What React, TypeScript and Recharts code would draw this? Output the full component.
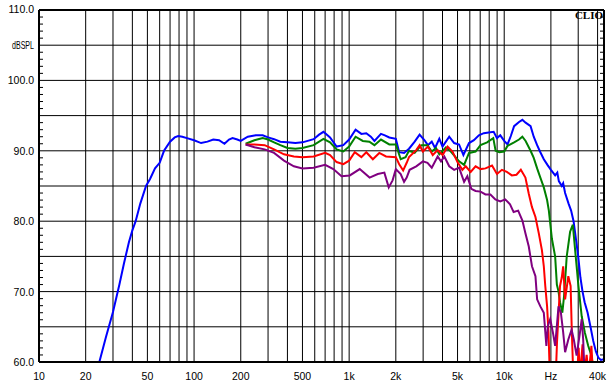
import React from "react";
import { LineChart, Line, XAxis, YAxis, ReferenceLine } from "recharts";

// frequency (Hz), level (dBSPL)
const BLUE: [number, number][] = [
  [24.5, 60], [27, 63.5], [30, 67.1], [33, 71], [35.3, 74], [38, 77], [40, 78.7],
  [42, 80], [45, 82.5], [49, 85], [52, 86], [56, 87.5], [60, 88.3], [64, 90],
  [70, 91.3], [75, 91.9], [79, 92.1], [84, 92.0], [90, 91.8], [100, 91.5],
  [111, 91.1], [122, 91.3], [133, 91.6], [145, 91.5], [157, 91.0], [168, 91.6],
  [177, 91.8], [190, 91.6], [200, 91.4], [222, 92.0], [250, 92.2], [277, 92.2],
  [300, 91.9], [328, 91.65], [360, 91.3], [400, 91.2], [450, 91.1], [500, 91.2],
  [590, 91.65], [640, 92.3], [683, 92.7], [753, 91.9], [830, 90.6], [917, 90.8],
  [1000, 91.6], [1100, 93.0], [1199, 92.4], [1290, 92.5], [1380, 92.0], [1456, 91.4],
  [1604, 92.4], [1700, 92.2], [1815, 91.9], [2000, 91.7], [2102, 89.8], [2260, 89.7],
  [2433, 90.3], [2646, 91.3], [2847, 92.3], [3064, 91.5], [3218, 90.8], [3410, 91.3],
  [3580, 90.4], [3815, 91.7], [4000, 90.6], [4419, 92.0], [4755, 91.1], [5116, 90.9],
  [5454, 89.4], [5930, 91.1], [6375, 91.5], [6862, 92.2], [7385, 92.5], [7946, 92.6],
  [8551, 92.7], [8980, 91.8], [9430, 92.2], [10000, 91.4], [10500, 90.9], [11030, 92.1],
  [11580, 93.5], [12460, 94.1], [13090, 94.4], [13740, 94.0], [14790, 93.5], [15500, 92.0],
  [16300, 90.8], [17100, 89.8], [18000, 88.8], [19000, 88.0], [20000, 87.3], [21300, 86.5],
  [22000, 86.9], [22500, 85.7], [23500, 85.0], [24000, 85.4], [24700, 84.0], [26000, 82.5],
  [27000, 81.5], [28000, 80.0], [29000, 77.5], [30000, 75.0], [31000, 72], [32000, 70],
  [33000, 68.5], [34500, 67], [36000, 65], [37500, 63], [39000, 61.5], [40500, 60.6],
  [42000, 60.3], [44000, 60.4],
];

const GREEN: [number, number][] = [
  [215, 91.0], [245, 91.5], [277, 91.8], [300, 91.6], [328, 91.2], [360, 90.8],
  [400, 90.4], [450, 90.3], [500, 90.4], [590, 90.8], [683, 91.7], [753, 91.2],
  [830, 90.2], [917, 89.9], [1000, 90.6], [1100, 92.0], [1225, 91.4], [1350, 91.3],
  [1456, 90.8], [1604, 91.6], [1815, 90.9], [2000, 90.9], [2150, 88.8], [2310, 89.1],
  [2433, 90.0], [2646, 89.7], [2920, 90.8], [3200, 90.8], [3410, 89.9], [3630, 90.4],
  [3815, 89.5], [4208, 90.5], [4527, 89.9], [5116, 88.5], [5510, 88.0], [5930, 89.7],
  [6536, 89.9], [7035, 90.8], [7757, 91.2], [8000, 91.4], [8500, 91.8], [8800, 90.0],
  [9300, 89.8], [10000, 89.9], [10500, 90.7], [11580, 91.2], [12460, 91.6], [13090, 92.0],
  [13740, 91.4], [14790, 90.0], [15500, 89.0], [16300, 87.5], [17100, 86.2], [18000, 84.8],
  [18900, 83.0], [19400, 81.5], [19800, 79.7], [20300, 77.5], [21300, 75.0], [21850, 71],
  [22400, 70], [22900, 68.5], [23700, 67.0], [24300, 69.3], [25300, 75], [26600, 78.5],
  [27700, 79.5], [28800, 75.4], [30100, 70.8], [31600, 66.5], [33100, 64.2], [34800, 62.3],
  [36500, 60.9], [37400, 59.5], [38500, 58],
];

const RED: [number, number][] = [
  [215, 90.9], [245, 90.9], [285, 90.8], [328, 90.2], [380, 89.5], [440, 89.2],
  [500, 89.1], [590, 89.2], [700, 89.7], [753, 89.4], [830, 88.4], [917, 88.1],
  [1000, 88.6], [1087, 89.8], [1199, 89.1], [1290, 89.8], [1422, 88.8], [1565, 89.7],
  [1729, 89.2], [2000, 89.1], [2102, 88.1], [2230, 87.2], [2350, 88.3], [2433, 89.1],
  [2708, 90.1], [2847, 90.8], [2990, 89.9], [3218, 90.6], [3460, 89.4], [3723, 90.1],
  [4007, 89.4], [4314, 90.6], [4642, 89.9], [4995, 88.4], [5375, 87.3], [5646, 87.8],
  [6075, 87.0], [6536, 87.8], [7035, 87.4], [7570, 87.5], [8345, 87.9], [8980, 86.7],
  [9663, 87.3], [10400, 87.0], [11200, 86.5], [12000, 86.6], [12800, 87.3], [13700, 86.2],
  [14400, 83.9], [15100, 82.0], [15900, 80.6], [16700, 78.3], [17500, 75.9], [18000, 73.6],
  [18400, 70.8], [18900, 67.9], [19300, 64.2], [19700, 58], [21500, 58], [21900, 62.8],
  [22900, 70.8], [23500, 72], [24000, 73.6], [24700, 68.9], [25900, 72.2], [26800, 70.8],
  [27300, 64.2], [27900, 58], [29500, 58], [30200, 62], [30800, 58], [32000, 62.5],
  [32700, 58], [34000, 61], [35000, 58], [36500, 62.3], [37400, 58],
];

const PURPLE: [number, number][] = [
  [215, 90.9], [245, 90.5], [285, 90.2], [328, 89.7], [380, 88.6], [440, 87.8],
  [500, 87.5], [590, 87.6], [700, 88.0], [791, 87.4], [893, 86.4], [1010, 86.5],
  [1170, 87.4], [1355, 86.2], [1530, 86.7], [1687, 86.9], [1800, 84.8], [1906, 85.8],
  [2000, 87.4], [2150, 86.7], [2260, 85.6], [2350, 86.2], [2454, 87.3], [2708, 87.8],
  [2990, 88.5], [3200, 88.3], [3410, 87.6], [3723, 89.2], [3913, 88.5], [4110, 89.2],
  [4419, 87.8], [4755, 87.3], [5116, 87.6], [5510, 85.6], [5785, 86.4], [6135, 84.6],
  [6536, 84.3], [7035, 84.2], [7570, 83.8], [8145, 83.8], [8763, 83.1], [9430, 82.8],
  [10150, 83.1], [10900, 82.4], [11500, 81.3], [12300, 81.5], [13100, 80.1], [13700, 78.3],
  [14400, 76.4], [15100, 73.6], [15900, 72.2], [16300, 68.9], [17100, 67.9], [18000, 67],
  [18700, 62.3], [19100, 65.1], [19800, 66.1], [20600, 64.2], [21300, 62.3], [22400, 67.9],
  [23200, 67], [24000, 64.2], [24700, 61.4], [25900, 63.2], [27200, 64.6], [28100, 63.2],
  [29300, 60.9], [30800, 64.2], [31600, 66.1], [32300, 63.2], [33000, 58],
];

const X_TICKS = [10, 20, 50, 100, 200, 500, 1000, 2000, 5000, 10000, 20000, 40000];
const X_LABELS = ["10", "20", "50", "100", "200", "500", "1k", "2k", "5k", "10k", "Hz", "40k"];
const X_GRID = [
  20, 30, 40, 50, 60, 70, 80, 90, 100, 200, 300, 400, 500, 600, 700, 800, 900,
  1000, 2000, 3000, 4000, 5000, 6000, 7000, 8000, 9000, 10000, 20000, 30000, 40000,
];
const Y_TICKS = [
  60, 61, 62, 63, 64, 65, 66, 67, 68, 69, 70, 71, 72, 73, 74, 75, 76, 77, 78, 79, 80,
  81, 82, 83, 84, 85, 86, 87, 88, 89, 90, 91, 92, 93, 94, 95, 96, 97, 98, 99, 100,
  101, 102, 103, 104, 105, 106, 107, 108, 109, 110,
];
const Y_GRID = [65, 70, 75, 80, 85, 90, 95, 100, 105];
const Y_LABEL_VALUES = [110, 105, 100, 90, 80, 70, 60];
const Y_LABELS = ["110.0", "dBSPL", "100.0", "90.0", "80.0", "70.0", "60.0"];

const FONT = "'Liberation Sans', Arial, sans-serif";
const toPoints = (rows: [number, number][]) => rows.map(([f, db]) => ({ f, db }));

const LeftTick = (props: any) => {
  const { x, y, payload } = props;
  const v = payload.value;
  const axisX = x + 4;
  const idx = Y_LABEL_VALUES.indexOf(v);
  return (
    <g>
      {v % 5 !== 0 && (
        <line x1={axisX} x2={axisX + 4} y1={y} y2={y} stroke="#000" strokeWidth={1} />
      )}
      {idx >= 0 && (
        <text
          x={x - 1}
          y={v === 110 ? y - 1 : y}
          dy={4}
          textAnchor="end"
          fontSize={10.5}
          fontFamily={FONT}
          fill="#000"
          textLength={v === 105 ? 22 : undefined}
          lengthAdjust="spacingAndGlyphs"
        >
          {Y_LABELS[idx]}
        </text>
      )}
    </g>
  );
};

const RightTick = (props: any) => {
  const { x, y, payload } = props;
  if (payload.value % 5 === 0) return <g />;
  return <line x1={x - 4} x2={x} y1={y} y2={y} stroke="#000" strokeWidth={1} />;
};

const BottomTick = (props: any) => {
  const { x, y, payload } = props;
  const idx = X_TICKS.indexOf(payload.value);
  return (
    <text x={x} y={y} dy={18} textAnchor="middle" fontSize={10.5} fontFamily={FONT} fill="#000">
      {idx >= 0 ? X_LABELS[idx] : ""}
    </text>
  );
};

const series = [
  { name: "blue", data: toPoints(BLUE), color: "#0000FF" },
  { name: "green", data: toPoints(GREEN), color: "#008000" },
  { name: "red", data: toPoints(RED), color: "#FF0000" },
  { name: "purple", data: toPoints(PURPLE), color: "#800080" },
];

export default function App() {
  return (
    <div style={{ position: "absolute", left: 0, top: 0, width: 611, height: 384, background: "#fff" }}>
      <LineChart width={611} height={384} margin={{ top: 10, right: 6, bottom: 0, left: 0 }}>
        <XAxis
          dataKey="f"
          type="number"
          scale="log"
          domain={[10, 44000]}
          allowDataOverflow
          ticks={X_TICKS}
          interval={0}
          height={22}
          tickLine={false}
          tickSize={0}
          tickMargin={0}
          axisLine={{ stroke: "#000", strokeWidth: 2 }}
          tick={BottomTick}
        />
        <YAxis
          type="number"
          domain={[60, 110]}
          allowDataOverflow
          ticks={Y_TICKS}
          interval={0}
          width={39}
          tickLine={false}
          tickSize={0}
          tickMargin={4}
          axisLine={{ stroke: "#000", strokeWidth: 2 }}
          tick={LeftTick}
        />
        <YAxis
          yAxisId="r"
          orientation="right"
          type="number"
          domain={[60, 110]}
          allowDataOverflow
          ticks={Y_TICKS}
          interval={0}
          width={1}
          tickLine={false}
          tickSize={0}
          tickMargin={0}
          axisLine={{ stroke: "#000", strokeWidth: 2 }}
          tick={RightTick}
        />
        {X_GRID.map((f) => (
          <ReferenceLine key={`x${f}`} x={f} stroke="#000" strokeWidth={1} />
        ))}
        {Y_GRID.map((d) => (
          <ReferenceLine key={`y${d}`} y={d} stroke="#000" strokeWidth={1} />
        ))}
        <ReferenceLine y={110} stroke="#000" strokeWidth={2} />
        {series.map((s) => (
          <Line
            key={s.name}
            data={s.data}
            dataKey="db"
            type="linear"
            stroke={s.color}
            strokeWidth={2}
            dot={false}
            activeDot={false}
            isAnimationActive={false}
          />
        ))}
        <text
          x={603}
          y={19}
          textAnchor="end"
          fontSize={11}
          fontWeight="bold"
          fontFamily="'Liberation Serif', 'Times New Roman', serif"
          fill="#000"
        >
          CLIO
        </text>
      </LineChart>
    </div>
  );
}
